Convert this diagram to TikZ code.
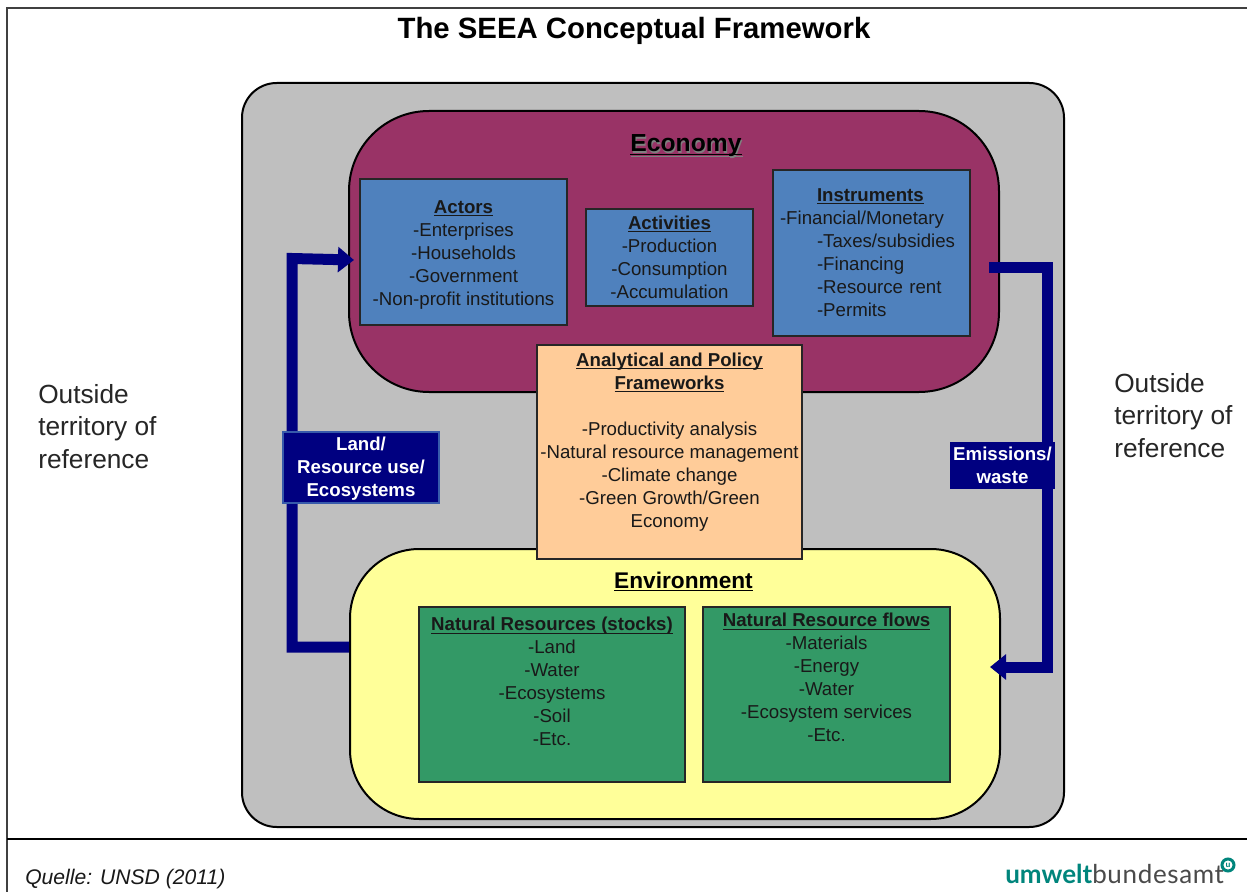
\documentclass[tikz,border=0pt]{standalone}
\usepackage{fontspec}
\setmainfont{Liberation Sans}
\newfontfamily\logofont{Lato}
\newfontfamily\logospaced[LetterSpace=2.5]{Lato}
\usetikzlibrary{arrows.meta}
\definecolor{panelgray}{HTML}{BFBFBF}
\definecolor{econ}{HTML}{993366}
\definecolor{bluebox}{HTML}{4F81BD}
\definecolor{peach}{HTML}{FFCC99}
\definecolor{envy}{HTML}{FFFF99}
\definecolor{greenbox}{HTML}{339966}
\definecolor{navyflow}{HTML}{000080}
\definecolor{logoteal}{HTML}{00857C}
\definecolor{logogray}{HTML}{4A4A4A}
\definecolor{outtext}{HTML}{262626}
\newcommand{\hd}[1]{\vphantom{Ay}\underline{\smash{\textbf{#1}}}}
\tikzset{
  x=0.75pt,y=-0.75pt,
  px/.style={line width=#1*0.75pt},
  sizebox/.style 2 args={minimum width=#1*0.75pt,minimum height=#2*0.75pt},
  panel/.style={draw=black,px=2,inner sep=0pt},
  infobox/.style={draw=black!85,px=2,inner sep=0pt,align=center,font=\fontsize{14}{17.25}\selectfont,text=black!90},
  flowlabel/.style={fill=navyflow,inner sep=0pt,align=center,text=white,font=\fontsize{14}{17.25}\selectfont\bfseries},
  flow/.style={draw=navyflow,px=11,line join=miter},
  flowtip/.style={flow,-{Triangle[length=12pt,width=18.5pt]}},
  outside/.style={align=left,anchor=north west,inner sep=0pt,text=outtext,font=\fontsize{19.7}{24.4}\selectfont},
}
\begin{document}
\begin{tikzpicture}
\useasboundingbox (0,0) rectangle (1247,892);
\fill[white] (0,0) rectangle (1247,892);
\draw[black!75,px=2] (1247,8) -- (7,8) -- (7,892);
\draw[black,px=1.3] (7,839) -- (1247,839);
\node[anchor=center,inner sep=0pt,font=\fontsize{22}{26}\selectfont\bfseries] (title) at (634,31) {The SEEA Conceptual Framework};

\node[panel,fill=panelgray,sizebox={822}{744},rounded corners=26pt] (outer) at (653,455) {};
\node[panel,fill=econ,sizebox={650}{281},rounded corners=60pt] (economy) at (674,251.5) {};
\node[panel,fill=envy,sizebox={650}{270},rounded corners=52pt] (environment) at (675,684) {};

\node[inner sep=0pt,text=gray,font=\fontsize{18.5}{22}\selectfont] (econshadow) at (687,148) {\hd{Economy}};
\node[inner sep=0pt,text=black,font=\fontsize{18.5}{22}\selectfont] (econtitle) at (686,146) {\hd{Economy}};
\node[inner sep=0pt,text=black,font=\fontsize{17}{21}\selectfont] (envtitle) at (683.5,583) {\hd{Environment}};

\node[infobox,fill=bluebox,sizebox={207}{146}] (actors) at (463.5,252) {\rule{0pt}{14.5pt}\hd{Actors}\\-Enterprises\\-Households\\-Government\\-Non-profit institutions};
\node[infobox,fill=bluebox,sizebox={167}{97}] (activities) at (669.5,257.5) {\hd{Activities}\\-Production\\-Consumption\\-Accumulation};
\node[infobox,fill=bluebox,sizebox={197}{166},text width=137.25pt,align=left] (instruments) at (871.5,252.5) {\hspace*{27.75pt}\hd{Instruments}\\-Financial/Monetary\\\hspace*{27.75pt}-Taxes/subsidies\\\hspace*{27.75pt}-Financing\\\hspace*{27.75pt}-Resource rent\\\hspace*{27.75pt}-Permits};

\node[infobox,fill=peach,sizebox={265}{214}] (analytical) at (669.5,452) {\hd{Analytical and Policy}\\\hd{Frameworks}\\[17.25pt]-Productivity analysis\\-Natural resource management\\-Climate change\\-Green Growth/Green\\Economy\\[0.5pt]\mbox{}};

\node[infobox,fill=greenbox,sizebox={266}{175}] (stocks) at (552,694.5) {\hd{Natural Resources (stocks)}\\-Land\\-Water\\-Ecosystems\\-Soil\\-Etc.\\[1.5pt]\mbox{}};
\node[infobox,fill=greenbox,sizebox={247}{175}] (resflows) at (826.5,694.5) {\hd{Natural Resource flows}\\-Materials\\-Energy\\-Water\\-Ecosystem services\\-Etc.\\[7.5pt]\mbox{}};

\coordinate (leftbend) at (292,647);
\coordinate (lefttop) at (292,258.5);
\coordinate (righttop) at (1047.5,267.5);
\coordinate (rightbot) at (1047.5,667);
\draw[flowtip] (environment.west |- leftbend) -- (leftbend) -- (lefttop) -- (354,260);
\draw[flowtip] (989,267.5) -- (righttop) -- (rightbot) -- (990,667);

\node[flowlabel,draw=bluebox!70!navyflow,px=1.5,sizebox={156}{71}] (landlabel) at (361,467.5) {\rule{0pt}{11.7pt}Land/\\Resource use/\\Ecosystems};
\node[flowlabel,sizebox={105}{47}] (emlabel) at (1002.5,465.5) {Emissions/\\waste};

\node[outside] (outleft) at (38,384) {Outside\\territory of\\reference};
\node[outside] (outright) at (1114,373) {Outside\\territory of\\reference};

\node[anchor=base west,inner sep=0pt,font=\fontsize{15.85}{19}\selectfont\itshape,text=black!90] (source) at (25,884) {Quelle: UNSD (2011)};
\node[anchor=base west,inner sep=0pt,font=\fontsize{19.5}{23}\selectfont] (logo) at (1005,883) {\textcolor{logoteal}{\logofont\textbf{umwelt}}\textcolor{logogray}{\logospaced bundesamt}};
\node[circle,draw=logoteal,px=3,fill=white,minimum size=9pt,inner sep=0pt,text=logoteal,font=\fontsize{6}{6}\selectfont\bfseries] (logomark) at (1228,865) {u};
\end{tikzpicture}
\end{document}
